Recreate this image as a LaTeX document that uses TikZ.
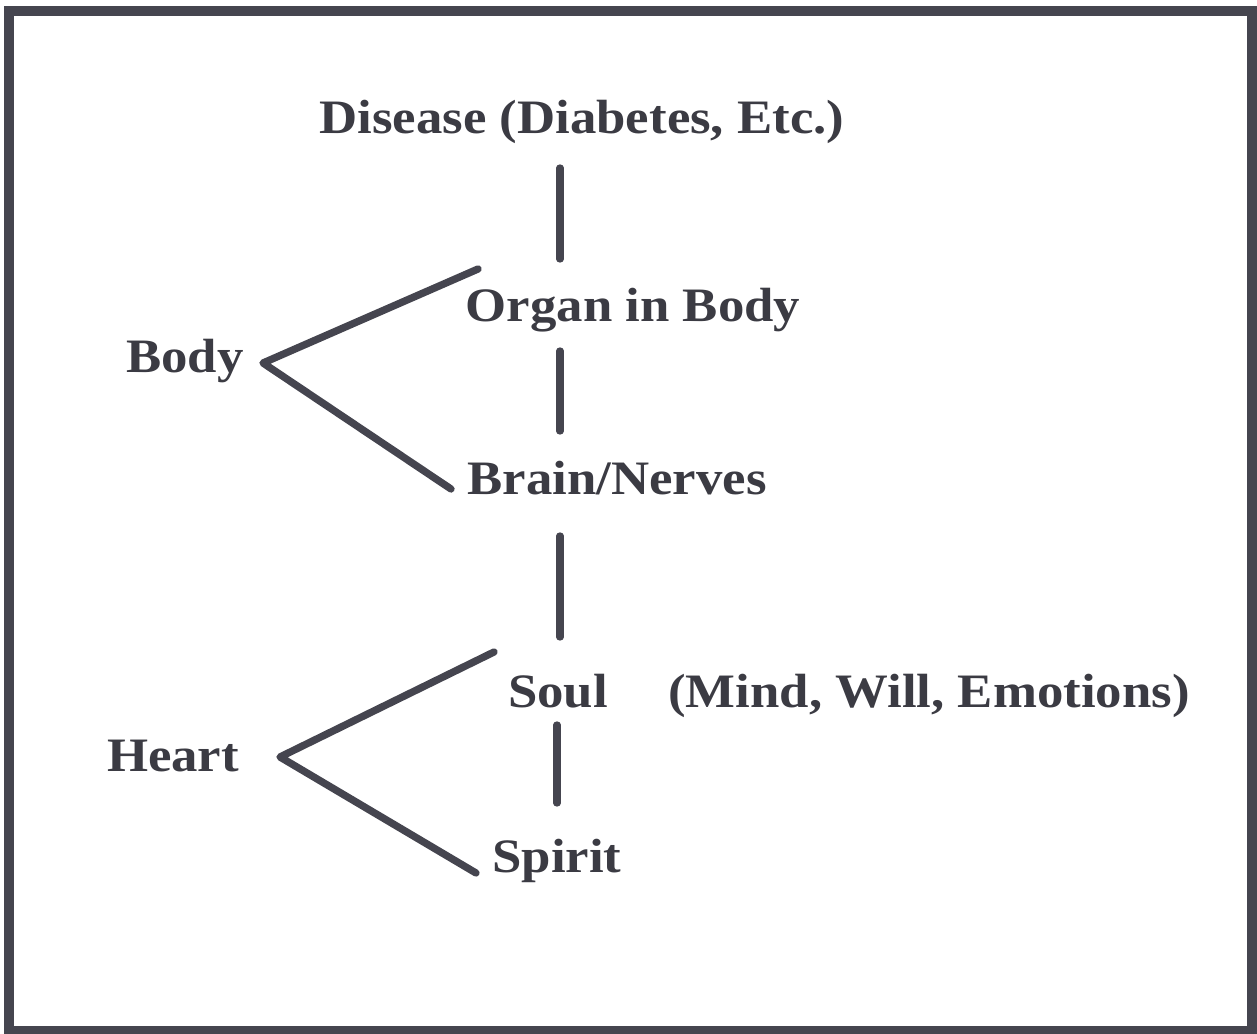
\documentclass[tikz,border=0pt]{standalone}
\usepackage{fontspec}
\setmainfont{Liberation Serif}[FakeStretch=1.1]
\definecolor{inkgray}{HTML}{45454F}
\tikzset{every picture/.style={line width=0.75pt}}
\tikzset{
  label/.style={anchor=base, inner sep=0.75pt, font=\fontsize{36}{40}\selectfont\bfseries, text=inkgray!85!black},
  stroke/.style={draw=inkgray, line width=5.5pt, line cap=round, line join=round}
}
\begin{document}
\begin{tikzpicture}[x=0.75pt,y=0.75pt,yscale=-1,xscale=1]
	\useasboundingbox (0,0) rectangle (1257,1034);
	% frame
	\draw [draw=inkgray, line width=7.5pt] (9,11) rectangle (1252,1031) ;
	
	% Text Node
	\node [label] (disease) at (582,134) {Disease (Diabetes, Etc.)};
	% Text Node
	\node [label] (organ) at (633,322) {Organ in Body};
	% Text Node
	\node [label] (body) at (185,373) {Body};
	% Text Node
	\node [label] (brain) at (617,494) {Brain/Nerves};
	% Text Node
	\node [label] (soul) at (558,707) {Soul};
	% Text Node
	\node [label] (mind) at (929,707) {(Mind, Will, Emotions)};
	% Text Node
	\node [label] (heart) at (173,771) {Heart};
	% Text Node
	\node [label] (spirit) at (557,872) {Spirit};
	
	% line ends
	\coordinate (v1a) at (560,168);
	\coordinate (v1b) at (560,259);
	\coordinate (v2a) at (560,351);
	\coordinate (v2b) at (560,431);
	\coordinate (v3a) at (560,536);
	\coordinate (v3b) at (560,637);
	\coordinate (v4a) at (557,725);
	\coordinate (v4b) at (557,803);
	\coordinate (bodytip) at (263,363);
	\coordinate (bodyup) at (478,269);
	\coordinate (bodydn) at (451,489);
	\coordinate (hearttip) at (280,757);
	\coordinate (heartup) at (494,652);
	\coordinate (heartdn) at (476,873);
	
	% Straight Lines
	\draw [stroke] (v1a) -- (v1b) ;
	\draw [stroke] (v2a) -- (v2b) ;
	\draw [stroke] (v3a) -- (v3b) ;
	\draw [stroke] (v4a) -- (v4b) ;
	\draw [stroke] (bodyup) -- (bodytip) -- (bodydn) ;
	\draw [stroke] (heartup) -- (hearttip) -- (heartdn) ;
	
\end{tikzpicture}
\end{document}
